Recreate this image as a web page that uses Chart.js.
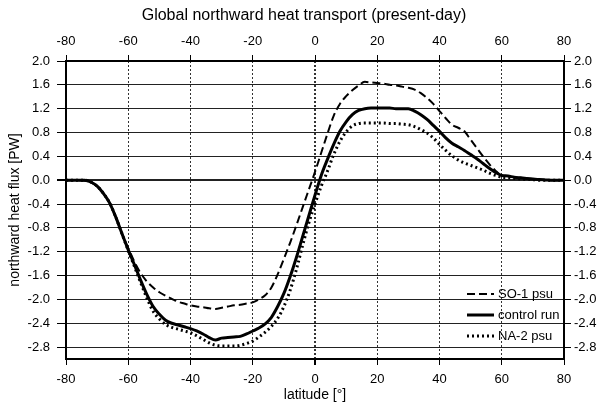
<!DOCTYPE html>
<html lang="en">
<head>
    <meta charset="UTF-8">
    <title>Global northward heat transport</title>
    <script src="https://cdn.jsdelivr.net/npm/chart.js"></script>
    <style>
        html, body { margin: 0; padding: 0; background: #fff; }
        .wrap { width: 608px; height: 404px; }
    </style>
</head>
<body>
    <div class="wrap"><canvas id="heatChart" width="608" height="404"></canvas></div>

    <script>
        // latitude, every 2 degrees
        const latitudes = [-80,-78,-76,-74,-72,-70,-68,-66,-64,-62,-60,-58,-56,-54,-52,-50,-48,-46,-44,-42,-40,-38,-36,-34,-32,-30,-28,-26,-24,-22,-20,-18,-16,-14,-12,-10,-8,-6,-4,-2,0,2,4,6,8,10,12,14,16,18,20,22,24,26,28,30,32,34,36,38,40,42,44,46,48,50,52,54,56,58,60,62,64,66,68,70,72,74,76,78,80];

        // northward heat flux [PW]
        const so1Psu = [0,0,0,-0.01,-0.04,-0.1,-0.22,-0.38,-0.62,-0.9,-1.14,-1.37,-1.56,-1.7,-1.8,-1.88,-1.94,-1.99,-2.04,-2.07,-2.1,-2.12,-2.13,-2.15,-2.16,-2.14,-2.12,-2.1,-2.09,-2.07,-2.05,-2.0,-1.93,-1.8,-1.58,-1.32,-1.05,-0.76,-0.46,-0.16,0.14,0.46,0.78,1.08,1.28,1.41,1.51,1.59,1.65,1.64,1.63,1.62,1.6,1.59,1.57,1.55,1.52,1.46,1.38,1.28,1.16,1.04,0.93,0.88,0.82,0.68,0.54,0.4,0.27,0.16,0.08,0.07,0.05,0.04,0.03,0.02,0.01,0.005,0,0,0];
        const controlRun = [0,0,0,0,-0.03,-0.1,-0.22,-0.38,-0.62,-0.9,-1.17,-1.42,-1.68,-1.92,-2.12,-2.25,-2.35,-2.4,-2.43,-2.46,-2.49,-2.53,-2.58,-2.64,-2.68,-2.65,-2.64,-2.63,-2.62,-2.58,-2.53,-2.48,-2.41,-2.3,-2.12,-1.9,-1.62,-1.3,-0.95,-0.6,-0.25,0.08,0.35,0.6,0.82,0.98,1.1,1.17,1.2,1.21,1.21,1.21,1.21,1.2,1.2,1.2,1.16,1.1,1.02,0.92,0.82,0.71,0.62,0.56,0.5,0.43,0.36,0.28,0.2,0.13,0.08,0.07,0.05,0.04,0.03,0.02,0.01,0.005,0,0,0];
        const na2Psu = [0,0,0,0,-0.03,-0.1,-0.22,-0.38,-0.62,-0.9,-1.18,-1.45,-1.72,-1.98,-2.2,-2.33,-2.42,-2.47,-2.5,-2.53,-2.56,-2.61,-2.67,-2.73,-2.77,-2.78,-2.78,-2.78,-2.77,-2.74,-2.7,-2.63,-2.55,-2.45,-2.32,-2.12,-1.85,-1.5,-1.1,-0.72,-0.4,-0.1,0.15,0.43,0.65,0.81,0.91,0.95,0.96,0.96,0.96,0.96,0.95,0.95,0.94,0.93,0.9,0.85,0.79,0.71,0.6,0.5,0.41,0.34,0.29,0.25,0.21,0.17,0.12,0.08,0.05,0.04,0.03,0.02,0.015,0.01,0,0,0,0,0];

        const seriesLabels = ['SO-1 psu', 'control run', 'NA-2 psu'];
        const xTicks = [-80, -60, -40, -20, 0, 20, 40, 60, 80];
        const yTicks = [2.0, 1.6, 1.2, 0.8, 0.4, 0.0, -0.4, -0.8, -1.2, -1.6, -2.0, -2.4, -2.8];

        const toPoints = vals => latitudes.map((lat, i) => ({ x: lat, y: vals[i] }));
        const fontFam = '"Liberation Sans", Arial, sans-serif';
        const tickFont = { family: fontFam, size: 13 };

        // legend drawn inside the plot, lower right
        const insideLegend = {
            id: 'insideLegend',
            afterDatasetsDraw(chart) {
                const { ctx, chartArea } = chart;
                ctx.save();
                ctx.font = '13px ' + fontFam;
                ctx.fillStyle = '#000';
                ctx.textBaseline = 'middle';
                chart.data.datasets.forEach((ds, i) => {
                    const y = chartArea.bottom - 65 + i * 21;
                    const x0 = chartArea.right - 97;
                    ctx.strokeStyle = ds.borderColor;
                    ctx.lineWidth = ds.borderWidth;
                    ctx.setLineDash(ds.borderDash || []);
                    ctx.beginPath();
                    ctx.moveTo(x0, y);
                    ctx.lineTo(x0 + 27, y);
                    ctx.stroke();
                    ctx.setLineDash([]);
                    ctx.fillText(ds.label, x0 + 31, y);
                });
                ctx.restore();
            }
        };

        const setTicks = list => scale => { scale.ticks = list.map(v => ({ value: v })); };

        const ctxHeat = document.getElementById('heatChart').getContext('2d');
        new Chart(ctxHeat, {
            type: 'line',
            data: {
                datasets: [
                    { label: seriesLabels[0], data: toPoints(so1Psu), borderColor: '#000', borderWidth: 2, borderDash: [8, 4] },
                    { label: seriesLabels[1], data: toPoints(controlRun), borderColor: '#000', borderWidth: 3 },
                    { label: seriesLabels[2], data: toPoints(na2Psu), borderColor: '#000', borderWidth: 3, borderDash: [2, 3] }
                ]
            },
            options: {
                responsive: false,
                animation: false,
                layout: { padding: 0 },
                elements: {
                    point: { radius: 0 },
                    line: { cubicInterpolationMode: 'monotone', fill: false }
                },
                plugins: {
                    legend: { display: false },
                    tooltip: { enabled: false },
                    title: {
                        display: true,
                        text: 'Global northward heat transport (present-day)',
                        color: '#000',
                        font: { family: fontFam, size: 16, weight: 'normal' },
                        padding: { top: 6, bottom: 0 }
                    }
                },
                scales: {
                    x: {
                        type: 'linear', position: 'bottom', min: -80, max: 80,
                        afterBuildTicks: setTicks(xTicks),
                        afterFit: s => { s.height = 45; },
                        ticks: { color: '#000', font: tickFont, padding: 7 },
                        grid: {
                            color: '#333',
                            lineWidth: c => (c.tick && c.tick.value === 0 ? 2 : 1),
                            tickLength: 6,
                            tickColor: '#000',
                            borderDash: [2, 2]
                        },
                        border: { color: '#000', width: 2, dash: [2, 2] },
                        title: { display: true, text: 'latitude [°]', color: '#000', font: { family: fontFam, size: 14 }, padding: { top: 0, bottom: 0 } }
                    },
                    x2: {
                        type: 'linear', position: 'top', min: -80, max: 80,
                        afterBuildTicks: setTicks(xTicks),
                        afterFit: s => { s.height = 35.8; },
                        ticks: { color: '#000', font: tickFont, padding: 6 },
                        grid: { drawOnChartArea: false, tickLength: 6, tickColor: '#000' },
                        border: { color: '#000', width: 2 }
                    },
                    y: {
                        type: 'linear', position: 'left', min: -3.0, max: 2.0,
                        afterBuildTicks: setTicks(yTicks),
                        afterFit: s => { s.width = 66; },
                        ticks: { color: '#000', font: tickFont, padding: 7, callback: v => v.toFixed(1) },
                        grid: {
                            color: '#222',
                            lineWidth: c => (c.tick && c.tick.value === 0 ? 2 : 1),
                            tickLength: 9,
                            tickColor: '#000'
                        },
                        border: { color: '#000', width: 2 },
                        title: { display: true, text: 'northward heat flux [PW]', color: '#000', font: { family: fontFam, size: 14 }, padding: { top: 7, bottom: 0 } }
                    },
                    y2: {
                        type: 'linear', position: 'right', min: -3.0, max: 2.0,
                        afterBuildTicks: setTicks(yTicks),
                        afterFit: s => { s.width = 44; },
                        ticks: { color: '#000', font: tickFont, padding: 3, callback: v => v.toFixed(1) },
                        grid: { drawOnChartArea: false, tickLength: 7, tickColor: '#000' },
                        border: { color: '#000', width: 2 }
                    }
                }
            },
            plugins: [insideLegend]
        });
    </script>
</body>
</html>
